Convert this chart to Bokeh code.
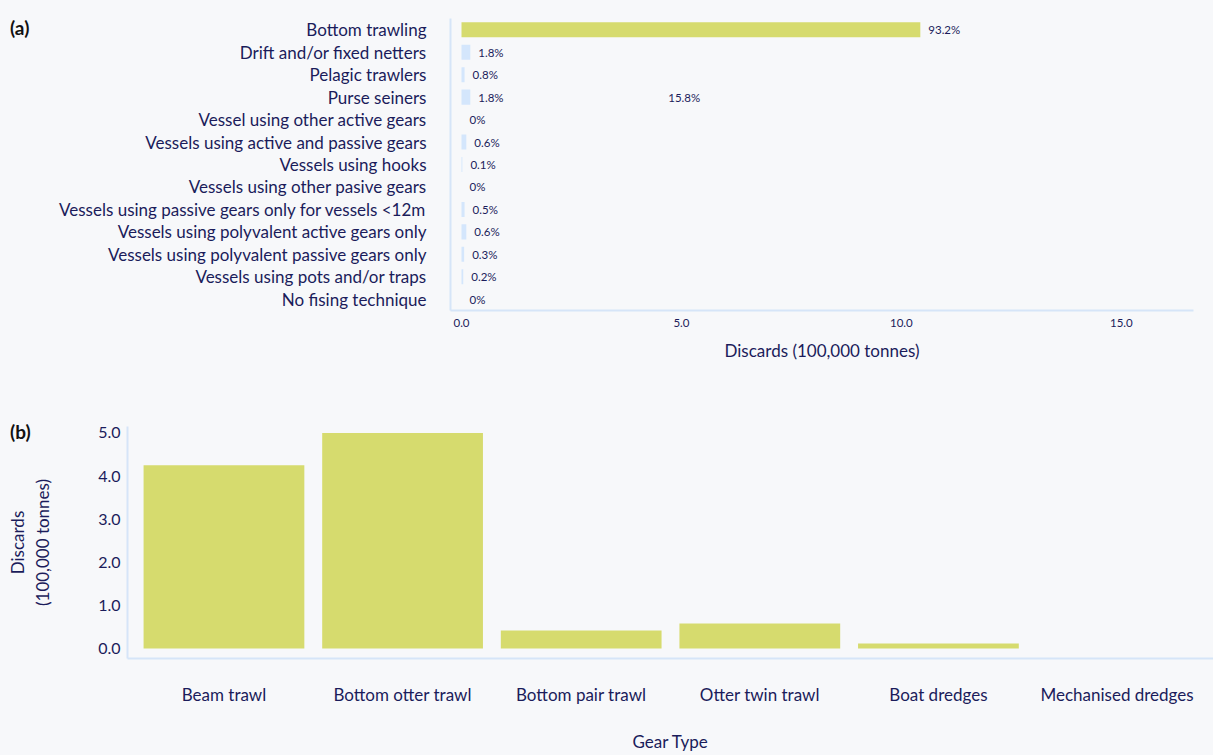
from bokeh.plotting import figure
from bokeh.models import (FactorRange, Range1d, ColumnDataSource, FixedTicker,
                          NumeralTickFormatter, Div)
from bokeh.embed import file_html
from bokeh.resources import INLINE
from bokeh.core.properties import value

# ---------------- data ----------------
gear_a = [
    "Bottom trawling",
    "Drift and/or fixed netters",
    "Pelagic trawlers",
    "Purse seiners",
    "Vessel using other active gears",
    "Vessels using active and passive gears",
    "Vessels using hooks",
    "Vessels using other pasive gears",
    "Vessels using passive gears only for vessels <12m",
    "Vessels using polyvalent active gears only",
    "Vessels using polyvalent passive gears only",
    "Vessels using pots and/or traps",
    "No fising technique",
]
discards_a = [10.43, 0.20, 0.07, 0.20, 0.0, 0.11, 0.02, 0.0, 0.07, 0.11, 0.06, 0.04, 0.0]
share_a = ["93.2%", "1.8%", "0.8%", "1.8%", "0%", "0.6%", "0.1%", "0%", "0.5%",
           "0.6%", "0.3%", "0.2%", "0%"]
extra_label_text = ["15.8%"]
extra_label_value = [4.7]
extra_label_gear = ["Purse seiners"]
xticks_a = [0, 5, 10, 15]

gear_b = ["Beam trawl", "Bottom otter trawl", "Bottom pair trawl",
          "Otter twin trawl", "Boat dredges", "Mechanised dredges"]
discards_b = [4.25, 5.0, 0.42, 0.58, 0.12, 0.0]
yticks_b = [0, 1, 2, 3, 4, 5]

# ---------------- style ----------------
BG = "#f7f8fa"
NAVY = "#1b1c5b"
YELLOW = "#d6db6e"
LIGHTBLUE = "#d4e6fc"
AXIS = "#d6e5f8"
FONT = "Lato"

W = 1213

# ---------------- chart (a) ----------------
top_val = max(discards_a)
src_a = ColumnDataSource(dict(
    gear=gear_a, val=discards_a, lab=share_a,
    color=[YELLOW if v == top_val else LIGHTBLUE for v in discards_a]))

pa = figure(width=W, height=376,
            y_range=FactorRange(factors=gear_a[::-1]),
            x_range=Range1d(-0.25, 16.64),
            output_backend="svg", toolbar_location=None,
            min_border_left=450, min_border_right=20,
            min_border_top=18, min_border_bottom=66,
            background_fill_color=BG, border_fill_color=BG)
pa.hbar(y="gear", left=0, right="val", height=0.67, fill_color="color",
        line_color=None, source=src_a)
pa.text(x="val", y="gear", text="lab", x_offset=8, text_align="left",
        text_baseline="middle", text_font=value(FONT), text_font_size="11.5px",
        text_color=NAVY, source=src_a)
pa.text(x=extra_label_value, y=extra_label_gear, text=extra_label_text,
        text_align="left", text_baseline="middle", text_font=value(FONT),
        text_font_size="11.5px", text_color=NAVY)

pa.xaxis.ticker = FixedTicker(ticks=xticks_a)
pa.xaxis.formatter = NumeralTickFormatter(format="0.0")
pa.xaxis.axis_label = "Discards (100,000 tonnes)"
pa.xaxis.major_label_text_font_size = "11.5px"
pa.xaxis.major_label_standoff = 8
pa.xaxis.axis_label_standoff = 10
pa.yaxis.major_label_standoff = 24
pa.yaxis.major_label_text_font_size = "17px"

# ---------------- chart (b) ----------------
pb = figure(width=W, height=379,
            x_range=FactorRange(factors=gear_b, range_padding=0.04,
                                range_padding_units="absolute"),
            y_range=Range1d(-0.23, 5.15),
            output_backend="svg", toolbar_location=None,
            min_border_left=127, min_border_right=0,
            min_border_top=50, min_border_bottom=97,
            background_fill_color=BG, border_fill_color=BG)
pb.vbar(x=gear_b, top=discards_b, bottom=0, width=0.9, fill_color=YELLOW,
        line_color=None)

pb.yaxis.ticker = FixedTicker(ticks=yticks_b)
pb.yaxis.formatter = NumeralTickFormatter(format="0.0")
pb.yaxis.axis_label = "Discards\n(100,000 tonnes)"
pb.yaxis.major_label_text_font_size = "16px"
pb.yaxis.major_label_standoff = 7
pb.yaxis.axis_label_standoff = 42
pb.xaxis.axis_label = "Gear Type"
pb.xaxis.major_label_text_font_size = "17px"
pb.xaxis.major_label_standoff = 25
pb.xaxis.axis_label_standoff = 23

for p in (pa, pb):
    p.grid.visible = False
    p.outline_line_color = None
    for ax in p.axis:
        ax.axis_line_color = AXIS
        ax.axis_line_width = 2
        ax.major_tick_line_color = None
        ax.minor_tick_line_color = None
        ax.major_tick_out = 0
        ax.major_tick_in = 0
        ax.minor_tick_out = 0
        ax.minor_tick_in = 0
        ax.major_label_text_font = FONT
        ax.major_label_text_color = NAVY
        ax.axis_label_text_font = FONT
        ax.axis_label_text_font_style = "normal"
        ax.axis_label_text_font_size = "17px"
        ax.axis_label_text_color = NAVY

# panel letters, placed on the page
def panel_letter(text, left, top):
    return Div(text=text, margin=0,
               styles={"position": "absolute", "left": f"{left}px",
                       "top": f"{top}px", "font-family": FONT,
                       "font-weight": "bold", "font-size": "19px",
                       "line-height": "22px", "color": "#111111"})

div_a = panel_letter("(a)", 10, 17)
div_b = panel_letter("(b)", 10, 421)

html = file_html([pa, pb, div_a, div_b], INLINE)
html = html.replace("<head>", "<head><style>html,body{background:%s;}</style>" % BG, 1)
open("out.html", "w").write(html)
